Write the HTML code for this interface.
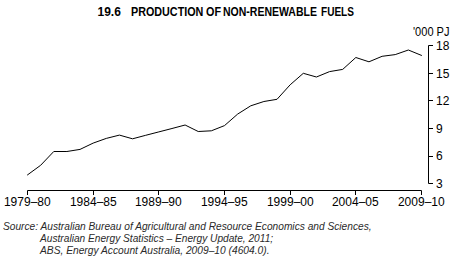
<!DOCTYPE html>
<html><head><meta charset="utf-8"><style>
html,body{margin:0;padding:0;background:#fff;width:461px;height:265px;overflow:hidden;position:relative}
.t{position:absolute;font-family:"Liberation Sans",sans-serif;color:#000;white-space:nowrap;line-height:1}
.title{font-weight:bold;font-size:12px;top:5.5px}
.xl{font-size:12px;top:196px;transform:translateX(-50%)}
.yl{font-size:12px;left:436px}
.unit{font-size:12px;left:413px;top:26px;transform:scaleX(0.92);transform-origin:0 0}
.src{font-style:italic;color:#2a2a2a;font-size:10.5px;transform-origin:0 0}
svg{position:absolute;left:0;top:0}
</style></head><body>
<svg width="461" height="265" viewBox="0 0 461 265">
<g stroke="#000" stroke-width="1" fill="none">
<path d="M27.5 195 V190.5 H421.5 V195"/>
<path d="M93.5 190.5 V195"/>
<path d="M158.5 190.5 V195"/>
<path d="M224.5 190.5 V195"/>
<path d="M290.5 190.5 V195"/>
<path d="M355.5 190.5 V195"/>
<path d="M433 45.5 H428.5 V183.5 H433"/>
<path d="M428.5 73.5 H433"/>
<path d="M428.5 100.5 H433"/>
<path d="M428.5 128.5 H433"/>
<path d="M428.5 156.5 H433"/>
</g>
<polyline points="27.50,174.90 40.63,165.30 53.77,151.50 66.90,151.50 80.03,149.40 93.17,143.10 106.30,138.40 119.43,135.10 132.57,138.80 145.70,135.30 158.83,131.90 171.97,128.50 185.10,125.00 198.23,131.50 211.37,130.80 224.50,125.60 237.63,114.10 250.77,105.80 263.90,101.50 277.03,99.30 290.17,84.80 303.30,73.30 316.43,77.00 329.57,71.60 342.70,69.40 355.83,57.50 368.97,61.80 382.10,56.30 395.23,54.60 408.37,50.00 421.50,55.40" fill="none" stroke="#000" stroke-width="1.0" stroke-linejoin="round" stroke-linecap="round"/>
</svg>
<div class="t title" style="left:97.5px">19.6</div>
<div class="t title" style="left:130.6px;transform:scaleX(0.897);transform-origin:0 0">PRODUCTION</div>
<div class="t title" style="left:205.5px;transform:scaleX(0.9);transform-origin:0 0">OF</div>
<div class="t title" style="left:223.3px;transform:scaleX(0.875);transform-origin:0 0">NON-RENEWABLE</div>
<div class="t title" style="left:321.0px;transform:scaleX(0.838);transform-origin:0 0">FUELS</div>
<div class="t unit">'000 PJ</div>
<div class="t xl" style="left:27.3px">1979–80</div>
<div class="t xl" style="left:93.3px">1984–85</div>
<div class="t xl" style="left:158.3px">1989–90</div>
<div class="t xl" style="left:224.3px">1994–95</div>
<div class="t xl" style="left:290.3px">1999–00</div>
<div class="t xl" style="left:355.3px">2004–05</div>
<div class="t xl" style="left:421.3px">2009–10</div>
<div class="t yl" style="top:40px">18</div>
<div class="t yl" style="top:68px">15</div>
<div class="t yl" style="top:95px">12</div>
<div class="t yl" style="top:123px">9</div>
<div class="t yl" style="top:150px">6</div>
<div class="t yl" style="top:178px">3</div>
<div class="t src" style="left:3px;top:220.6px;transform:scaleX(0.969)">Source: Australian Bureau of Agricultural and Resource Economics and Sciences,</div>
<div class="t src" style="left:40.4px;top:233.0px;transform:scaleX(0.968)">Australian Energy Statistics – Energy Update, 2011;</div>
<div class="t src" style="left:40.4px;top:245.4px;transform:scaleX(0.974)">ABS, Energy Account Australia, 2009–10 (4604.0).</div>
</body></html>
